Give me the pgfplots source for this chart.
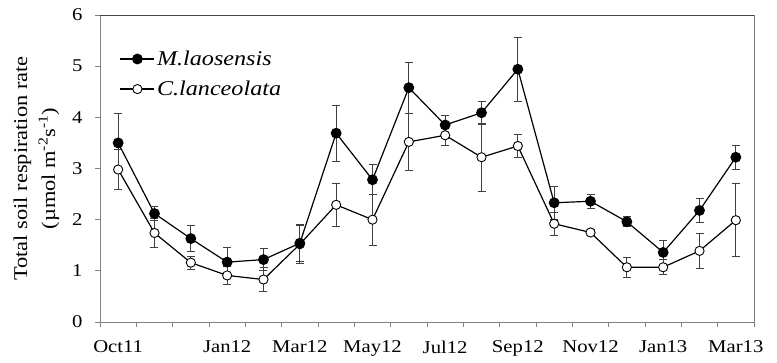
\documentclass[border=0pt]{standalone}
\usepackage{fontspec}
\setmainfont[FakeStretch=1.15]{Liberation Serif}
\usepackage{pgfplots}
\usepackage{pgfplotstable}
\pgfplotsset{compat=1.18}

% monthly means and standard errors, Oct 2011 - Mar 2013
\pgfplotstableread{
x  m    me    c    ce
0  3.50 0.58  2.98 0.39
1  2.12 0.14  1.74 0.29
2  1.63 0.25  1.16 0.13
3  1.17 0.29  0.91 0.18
4  1.22 0.21  0.83 0.24
5  1.54 0.36  1.52 0.37
6  3.69 0.55  2.29 0.42
7  2.78 0.29  2.00 0.50
8  4.58 0.50  3.52 0.56
9  3.85 0.18  3.65 0.20
10 4.09 0.22  3.22 0.66
11 4.94 0.62  3.44 0.22
12 2.33 0.32  1.92 0.23
13 2.36 0.14  1.75 0.06
14 1.96 0.10  1.07 0.19
15 1.36 0.23  1.07 0.15
16 2.18 0.23  1.39 0.34
17 3.22 0.23  1.99 0.71
}\resp

\begin{document}
\begin{tikzpicture}
\path[use as bounding box] (-100pt,-40pt) rectangle (677pt,322pt);
\begin{axis}[
  at={(0,0)}, anchor=south west,
  width=654pt, height=307pt, scale only axis,
  xmin=-0.5, xmax=17.5, ymin=0, ymax=6,
  ytick={0,1,...,6},
  xtick={0,3,5,7,9,11,13,15,17},
  xticklabels={Oct11,Jan12,Mar12,May12,Jul12,Sep12,Nov12,Jan13,Mar13},
  minor xtick={-0.5,0.5,...,17.5},
  every major x tick/.style={draw=none},
  tick align=outside, tickpos=left,
  major tick length=5pt, minor tick length=5pt,
  axis line style={draw=black!50, line width=0.9pt},
  tick style={draw=black!50, line width=0.9pt},
  ticklabel style={font=\fontsize{18}{20}\selectfont},
  /pgf/number format/assume math mode=true,
  xticklabel style={yshift=-10pt},
  yticklabel style={xshift=-9pt},
  ylabel={Total soil respiration rate\\(µmol m\textsuperscript{-2}s\textsuperscript{-1})},
  ylabel style={align=center, font=\fontsize{19.5}{28}\selectfont, yshift=6pt},
  legend style={draw=none, fill=none, inner sep=0pt, at={(0.03,0.89)}, anchor=north west,
    font=\fontsize{21}{23}\selectfont\itshape, row sep=10pt,
    /tikz/every even column/.append style={column sep=3pt}},
  legend cell align=left,
  legend image code/.code={\draw[mark repeat=2,mark phase=2] plot coordinates {(0pt,0pt) (17pt,0pt) (34pt,0pt)};},
  reverse legend,
  error bars/error bar style={draw=black!75, line width=0.9pt},
  error bars/error mark options={rotate=90, mark size=4pt, draw=black!75, line width=0.9pt},
]
% darker upper and right frame edges
\draw[black!72, line width=0.9pt] (rel axis cs:0,1) -- (rel axis cs:1,1) -- (rel axis cs:1,0);
\addplot[black, line width=1.2pt, mark=*, mark size=4.6pt, mark options={draw=black, fill=white, line width=0.9pt},
  error bars/.cd, y dir=both, y explicit]
  table[x=x, y=c, y error=ce] {\resp};
\addlegendentry{C.lanceolata}
\addplot[black, line width=1.2pt, mark=*, mark size=4.8pt, mark options={fill=black},
  error bars/.cd, y dir=both, y explicit]
  table[x=x, y=m, y error=me] {\resp};
\addlegendentry{M.laosensis}
\end{axis}
\end{tikzpicture}
\end{document}
